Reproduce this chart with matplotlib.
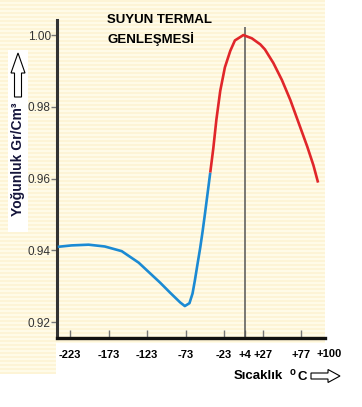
import numpy as np
import matplotlib.pyplot as plt
from matplotlib.patches import Rectangle, FancyArrow

# density of water vs temperature
temp_blue = [-239, -221, -199, -178, -156, -134, -113, -106, -93, -80, -74, -68, -64,
             -61, -58, -54, -51, -48, -45, -41]
dens_blue = [0.9410, 0.9414, 0.9416, 0.9411, 0.9398, 0.9366, 0.9324, 0.9310, 0.9282,
             0.9255, 0.9245, 0.9253, 0.9280, 0.9316, 0.9356, 0.9408, 0.9452, 0.9500,
             0.9550, 0.9617]
temp_red = [-41, -37, -33, -28, -22, -15, -9, 2, 13, 24, 30, 41, 52, 63, 73, 85, 93, 99]
dens_red = [0.9617, 0.9685, 0.9765, 0.9845, 0.9910, 0.9956, 0.9985, 1.0000, 0.9991,
            0.9974, 0.9960, 0.9922, 0.9875, 0.9819, 0.9760, 0.9689, 0.9637, 0.9589]

xticks = [-223, -173, -123, -73, -23, 4, 27, 77]
xticklabels = ['-223', '-173', '-123', '-73', '-23', '+4', '+27', '+77']
yticks = [0.92, 0.94, 0.96, 0.98, 1.00]
t_max_density = 4

W, H = 362, 407
fig = plt.figure(figsize=(W / 100, H / 100), dpi=100)
fig.patch.set_facecolor('white')

def px(x, y):
    # pixel coords from top-left -> figure fraction
    return x / W, 1 - y / H

def box(x0, y0, x1, y1, color, z=0):
    fx0, fy1 = px(x0, y1)
    fig.add_artist(Rectangle((fx0, fy1), (x1 - x0) / W, (y1 - y0) / H,
                             transform=fig.transFigure, facecolor=color,
                             edgecolor='none', zorder=z))

# striped cream background
cream = '#fffbe8'
stripe = '#fdf4d6'
box(0, 0, 325, 343, cream, -10)
box(0, 343, 56, 373, cream, -10)
for yy in range(0, 373, 4):
    x1 = 325 if yy < 343 else 56
    box(0, yy, x1, yy + 2, stripe, -9)
# white label boxes
box(8, 50, 28, 232, 'white', -8)
box(58, 343, 312, 366, 'white', -8)

ax = fig.add_axes([57 / W, 69 / H, (325 - 57) / W, (338 - 20) / H])
ax.set_facecolor('none')
ax.set_xlim(-240, 108)
ax.set_ylim(0.9156, 1.0042)

ax.plot(temp_blue, dens_blue, color='#1b8ad3', lw=1.9, solid_joinstyle='round',
        solid_capstyle='butt', zorder=3)
ax.plot(temp_red, dens_red, color='#e0262a', lw=1.9, solid_joinstyle='round',
        solid_capstyle='butt', zorder=3)
ax.vlines(t_max_density, 0.9156, 1.0022, color='#555555', lw=1.1, zorder=2)

for s in ['top', 'right']:
    ax.spines[s].set_visible(False)
ax.spines['left'].set_linewidth(2.2)
ax.spines['left'].set_color('#333333')
ax.spines['bottom'].set_linewidth(2.4)
ax.spines['bottom'].set_color('#111111')

ax.set_yticks(yticks)
ax.set_yticklabels(['%.2f' % v for v in yticks])
ax.tick_params(axis='y', direction='out', length=4, width=1, color='#777777',
               pad=0.5, labelsize=8.5, labelcolor='#333333')
for lab in ax.get_yticklabels():
    lab.set_fontfamily('Liberation Sans')

ax.set_xticks(xticks)
ax.set_xticklabels(xticklabels)
ax.tick_params(axis='x', direction='in', length=6, width=1, color='#777777',
               pad=9, labelsize=8)
for lab in ax.get_xticklabels():
    lab.set_fontfamily('Liberation Sans')
    lab.set_fontweight('bold')

fig.text(*px(329, 354), '+100', ha='center', va='center', fontsize=8,
         fontweight='bold', family='Liberation Sans')

# title
fig.text(*px(107, 20), 'SUYUN TERMAL', ha='left', va='center', fontsize=9.5,
         fontweight='bold', family='Liberation Sans')
fig.text(*px(107, 39), 'GENLEŞMESİ', ha='left', va='center', fontsize=9.5,
         fontweight='bold', family='Liberation Sans')

# x label with arrow
fig.text(*px(283, 376), 'Sıcaklık', ha='right', va='center', fontsize=9.5,
         fontweight='bold', family='Liberation Sans')
fig.text(*px(290, 372), 'o', ha='left', va='center', fontsize=7,
         fontweight='bold', family='Liberation Sans')
fig.text(*px(297, 377), 'C', ha='left', va='center', fontsize=9.5,
         fontweight='bold', family='Liberation Sans')
ax_x0, ax_y0 = px(311, 376)
fig.add_artist(FancyArrow(ax_x0, ax_y0, 29 / W, 0, width=6 / H, head_width=13 / H,
                          head_length=12 / W, length_includes_head=True,
                          transform=fig.transFigure, facecolor='white',
                          edgecolor='black', lw=0.8))

# y label with arrow
fig.text(*px(18, 159), 'Yoğunluk Gr/Cm³', rotation=90, ha='center', va='center',
         fontsize=10, fontweight='bold', family='Liberation Sans', color='#14143a')
ay_x0, ay_y0 = px(18, 97)
fig.add_artist(FancyArrow(ay_x0, ay_y0, 0, 44 / H, width=7 / W, head_width=14 / W,
                          head_length=20 / H, length_includes_head=True,
                          transform=fig.transFigure, facecolor='white',
                          edgecolor='black', lw=0.8))

plt.savefig('out.png', dpi=100)
